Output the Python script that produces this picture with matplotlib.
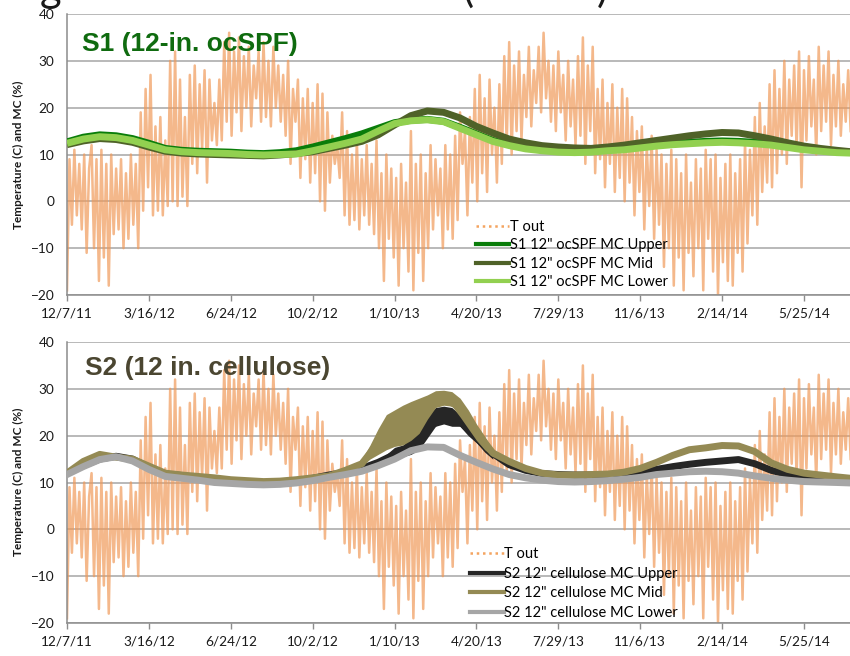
import matplotlib
matplotlib.use("Agg")
import matplotlib.pyplot as plt
from matplotlib.lines import Line2D
import numpy as np

# ---------------- data ----------------
tick_days = [0, 100, 200, 300, 400, 500, 600, 700, 800, 900]
tick_labels = ["12/7/11", "3/16/12", "6/24/12", "10/2/12", "1/10/13",
               "4/20/13", "7/29/13", "11/6/13", "2/14/14", "5/25/14"]

# outdoor temperature, sampled every 3 days (days since 12/7/11)
t_days = list(range(0, 960, 3))
t_out = [
    -19, 9, -5, 11, -3, 8, -6, 10, -11, 7,
    12, -10, 9, -17, 11, -12, 8, -18, 10, -7,
    7, -6, 9, -10, 6, -8, 10, -5, 8, -10,
    19, -2, 24, 3, 27, -3, 16, -2, 18, -3,
    13, -1, 30, 0, 32, -1, 26, 1, 18, -1,
    27, 8, 29, 6, 25, 11, 28, 4, 26, 13,
    21, 12, 26, 13, 34, 17, 36, 14, 32, 19,
    35, 15, 31, 20, 33, 16, 29, 22, 32, 17,
    34, 18, 30, 16, 33, 20, 29, 17, 27, 14,
    30, 8, 24, 17, 26, 5, 22, 9, 24, 4,
    21, 6, 25, 0, 23, -2, 19, 4, 14, 8,
    12, 5, 19, -3, 15, -5, 10, -4, 13, -6,
    9, -3, 12, -5, 8, -7, 13, -10, 6, -17,
    10, -8, 7, -12, 5, -18, 8, -10, 4, -15,
    15, -19, 8, -11, 10, -17, 6, -10, 12, -6,
    9, -3, 7, -10, 12, -6, 10, -8, 14, -4,
    19, 8, 15, -3, 18, 4, 24, 0, 27, 6,
    22, 2, 26, 10, 20, 4, 25, 8, 31, 12,
    34, 10, 29, 15, 32, 13, 27, 18, 33, 16,
    28, 21, 33, 19, 36, 22, 30, 17, 29, 15,
    32, 19, 27, 13, 30, 16, 26, 12, 31, 14,
    35, 8, 29, 15, 33, 6, 24, 9, 26, 3,
    21, 8, 25, 2, 20, 5, 24, 0, 22, 4,
    18, -3, 15, 2, 16, -6, 12, -1, 14, -8,
    11, -5, 10, -14, 8, -10, 11, -18, 9, -12,
    6, -19, 10, -11, 4, -16, 9, -10, 7, -19,
    11, -8, 9, -15, 10, -20, 5, -13, 8, -17,
    10, -18, 6, -11, 9, -15, 13, -9, 11, -3,
    18, -5, 21, 2, 16, 4, 25, 3, 28, 6,
    24, 10, 30, 8, 26, 14, 29, 11, 32, 3,
    28, 13, 31, 16, 26, 10, 33, 15, 29, 17,
    32, 12, 27, 16, 30, 14, 25, 17, 28, 15,
]

# moisture content series, sampled every 20 days
mc_days = list(range(0, 941, 20)) + [957]
s1_upper = [12.7, 13.7, 14.2, 14.0, 13.4, 12.4, 11.3, 10.9, 10.7, 10.6,
            10.5, 10.3, 10.2, 10.4, 10.8, 11.6, 12.5, 13.4, 14.4, 15.6,
            16.8, 17.3, 17.5, 17.1, 15.8, 14.4, 13.0, 12.1, 11.5, 11.2,
            11.0, 10.9, 11.0, 11.2, 11.4, 11.7, 12.1, 12.4, 12.6, 12.8,
            12.9, 12.8, 12.6, 12.2, 11.7, 11.2, 10.9, 10.6, 10.5]
s1_mid = [12.1, 12.9, 13.4, 13.2, 12.6, 11.6, 10.7, 10.3, 10.1, 10.0,
          9.9, 9.8, 9.7, 9.9, 10.2, 10.6, 11.3, 12.0, 12.8, 14.2,
          16.3, 18.3, 19.3, 19.0, 17.8, 16.0, 14.6, 13.3, 12.5, 11.9,
          11.6, 11.4, 11.3, 11.6, 12.0, 12.5, 13.0, 13.5, 14.0, 14.4,
          14.7, 14.6, 14.0, 13.3, 12.5, 11.8, 11.3, 10.9, 10.6]
s1_lower = [12.4, 13.3, 13.8, 13.6, 13.0, 12.0, 11.0, 10.6, 10.4, 10.3,
            10.2, 10.0, 9.9, 10.0, 10.1, 10.8, 11.6, 12.4, 13.3, 15.0,
            16.6, 17.2, 17.4, 17.0, 15.6, 14.2, 12.8, 11.9, 11.2, 10.8,
            10.5, 10.4, 10.5, 10.8, 11.0, 11.4, 11.8, 12.1, 12.3, 12.5,
            12.6, 12.5, 12.3, 12.0, 11.5, 11.0, 10.7, 10.4, 10.3]

s2_upper = [11.9, 13.6, 15.0, 15.6, 15.0, 13.2, 11.8, 11.5, 11.0, 10.4,
            10.1, 10.0, 9.9, 10.0, 10.3, 10.9, 11.6, 12.2, 13.0, 14.3,
            16.0, 17.5, 21.5, 24.0, 23.0, 19.5, 16.2, 13.8, 12.6, 11.9,
            11.7, 11.6, 11.6, 11.6, 11.7, 12.2, 12.8, 13.4, 13.9, 14.3,
            14.6, 14.9, 14.0, 12.6, 11.7, 11.2, 10.9, 10.7, 10.6]
s2_mid = [12.0, 14.5, 16.0, 15.4, 15.0, 13.5, 12.0, 11.6, 11.3, 11.0,
          10.6, 10.4, 10.2, 10.3, 10.6, 11.0, 11.4, 12.6, 14.0, 18.5,
          21.5, 23.0, 26.0, 28.0, 26.0, 20.8, 16.3, 14.5, 13.0, 12.0,
          11.6, 11.6, 11.7, 11.8, 12.2, 13.0, 14.3, 15.8, 17.0, 17.4,
          17.9, 17.8, 16.6, 14.2, 12.8, 12.0, 11.6, 11.2, 10.9]
s2_lower = [11.7, 13.4, 14.9, 15.5, 14.6, 12.8, 11.3, 10.9, 10.5, 10.0,
            9.8, 9.6, 9.5, 9.6, 9.9, 10.4, 11.1, 11.7, 12.4, 13.6,
            15.0, 16.8, 17.6, 17.5, 15.8, 14.3, 12.9, 11.7, 11.0, 10.5,
            10.2, 10.1, 10.2, 10.4, 10.7, 11.1, 11.7, 12.0, 12.3, 12.4,
            12.3, 12.0, 11.4, 10.9, 10.5, 10.2, 10.1, 10.0, 9.9]

# spread of the noisy S2 readings in winter 2013 (every 10 days)
env_days = list(range(360, 521, 10))
s2_mid_hi = [15.0, 18.0, 21.5, 24.5, 25.5, 26.5, 27.3, 28.0, 28.7, 29.6,
             29.7, 29.4, 28.0, 25.5, 22.5, 19.9, 17.0]
s2_mid_lo = [13.5, 15.0, 16.0, 17.0, 17.7, 18.0, 19.0, 20.5, 23.5, 26.0,
             26.5, 26.3, 24.0, 21.5, 19.0, 17.0, 15.5]
s2_upper_hi = [13.5, 14.2, 15.0, 16.0, 17.5, 18.0, 19.5, 21.5, 24.5, 26.0,
               26.3, 26.0, 24.5, 22.5, 20.5, 18.0, 16.0]
s2_upper_lo = [12.5, 13.0, 13.6, 14.3, 15.0, 15.5, 16.0, 17.0, 19.5, 22.0,
               22.5, 22.0, 22.0, 20.0, 18.5, 16.5, 15.0]

# ---------------- styling ----------------
ORANGE = "#f09a5a"
C_S1 = ["#0a7d0a", "#4f6228", "#92d050"]
C_S2 = ["#262626", "#948a54", "#a6a6a6"]
TICKFONT = ["Lato", "DejaVu Sans"]

fig = plt.figure(figsize=(8.5, 6.56), dpi=100)
W, H = 850.0, 656.0
ax1 = fig.add_axes([67 / W, 1 - 295 / H, 1 - 67 / W, 281 / H])
ax2 = fig.add_axes([67 / W, 1 - 623 / H, 1 - 67 / W, 281 / H])


def style_axes(ax):
    ax.set_xlim(0, 956.2)
    ax.set_ylim(-20, 40)
    ax.set_yticks(range(-20, 41, 10))
    ax.set_xticks(tick_days)
    ax.set_xticklabels(tick_labels)
    for lab in ax.get_xticklabels() + ax.get_yticklabels():
        lab.set_family(TICKFONT)
        lab.set_fontsize(9.8)
        lab.set_color("#1a1a1a")
    ax.tick_params(axis="y", length=0, pad=9)
    ax.tick_params(axis="x", length=4, width=1, color="#8c8c8c", pad=5,
                   direction="out")
    ax.grid(axis="y", color="#a6a6a6", lw=1.1, zorder=0)
    ax.set_axisbelow(True)
    for s in ["top", "right"]:
        ax.spines[s].set_visible(False)
    for s in ["left", "bottom"]:
        ax.spines[s].set_color("#8c8c8c")
        ax.spines[s].set_linewidth(1.1)


# --- panel 1
ax1.plot(t_days, t_out, color=ORANGE, lw=1.8, alpha=0.7, zorder=2)
for vals, col in zip([s1_upper, s1_mid, s1_lower], C_S1):
    ax1.plot(mc_days, vals, color=col, lw=5, solid_capstyle="butt", zorder=3)
style_axes(ax1)
fig.text(82 / W, 1 - 44 / H, "S1 (12-in. ocSPF)", family=["Liberation Sans", "DejaVu Sans"],
         fontweight="bold", fontsize=19, color="#0f6b0f", va="center", ha="left", zorder=10)

h1 = [Line2D([], [], color="#f4a460", lw=1.8, ls=(0, (1, 1.5))),
      Line2D([], [], color=C_S1[0], lw=3),
      Line2D([], [], color=C_S1[1], lw=3),
      Line2D([], [], color=C_S1[2], lw=3)]
l1 = ["T out", 'S1 12" ocSPF MC Upper', 'S1 12" ocSPF MC Mid', 'S1 12" ocSPF MC Lower']
leg1 = ax1.legend(h1, l1, loc="upper left", bbox_to_anchor=(0.522, 0.268),
                  frameon=False, handlelength=2.3, handletextpad=0.05,
                  labelspacing=0.31, borderpad=0, borderaxespad=0,
                  prop={"family": TICKFONT, "size": 10.5})
leg1.set_zorder(10)

# --- panel 2
ax2.plot(t_days, t_out, color=ORANGE, lw=1.8, alpha=0.7, zorder=2)
ax2.fill_between(env_days, s2_upper_lo, s2_upper_hi, color=C_S2[0], lw=0, zorder=3)
ax2.plot(mc_days, s2_upper, color=C_S2[0], lw=5, zorder=3)
ax2.fill_between(env_days, s2_mid_lo, s2_mid_hi, color=C_S2[1], lw=0, zorder=3.1)
ax2.plot(mc_days, s2_mid, color=C_S2[1], lw=5, zorder=3.1)
ax2.plot(mc_days, s2_lower, color=C_S2[2], lw=5, zorder=3.2)
style_axes(ax2)
fig.text(85 / W, 1 - 368 / H, "S2 (12 in. cellulose)", family=["Liberation Sans", "DejaVu Sans"],
         fontweight="bold", fontsize=19, color="#4b4631", va="center", ha="left", zorder=10)

h2 = [Line2D([], [], color="#f4a460", lw=1.8, ls=(0, (1, 1.5))),
      Line2D([], [], color=C_S2[0], lw=3),
      Line2D([], [], color=C_S2[1], lw=3),
      Line2D([], [], color=C_S2[2], lw=3)]
l2 = ["T out", 'S2 12" cellulose MC Upper', 'S2 12" cellulose MC Mid',
      'S2 12" cellulose MC Lower']
leg2 = ax2.legend(h2, l2, loc="upper left", bbox_to_anchor=(0.5147, 0.27),
                  frameon=False, handlelength=2.3, handletextpad=0.05,
                  labelspacing=0.38, borderpad=0, borderaxespad=0,
                  prop={"family": TICKFONT, "size": 10.5})
leg2.set_zorder(10)

# y-axis titles
for yc in (155, 482):
    fig.text(18 / W, 1 - yc / H, "Temperature (C) and MC (%)", rotation=90,
             family=TICKFONT, fontweight="bold", fontsize=8.5,
             color="#1a1a1a", ha="center", va="center")

# cropped slide title fragments at the top edge
for xc, ch in ((40, "g"), (462, "("), (597, ")")):
    fig.text(xc / W, 1 - 2 / H, ch, fontsize=30, family=["Lato", "DejaVu Sans"],
             color="#1a1a1a", ha="left", va="baseline")

fig.savefig("out.png", dpi=100)
